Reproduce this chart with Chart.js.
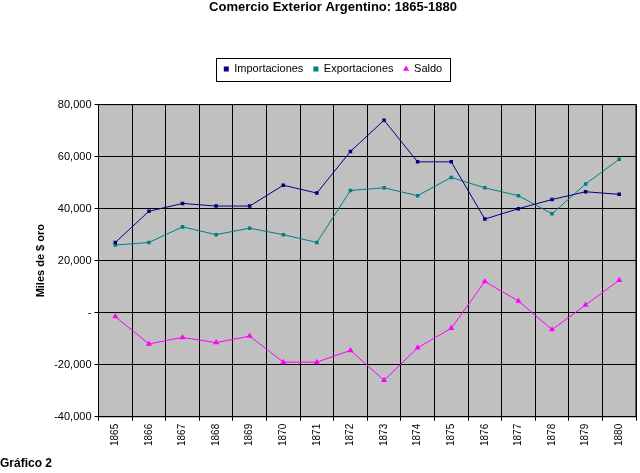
<!DOCTYPE html><html><head><meta charset="utf-8">
<script src="https://cdn.jsdelivr.net/npm/chart.js@4"></script>
<style>html,body{margin:0;background:#fff}#w{width:640px;height:473px;position:relative}
#f{position:absolute;left:0;top:456px;font:bold 12px "Liberation Sans",Arial;}</style></head><body>
<div id="w"><canvas id="c" width="640" height="473"></canvas><div id="f">Gráfico 2</div></div>
<script>
const years=['1865','1866','1867','1868','1869','1870','1871','1872','1873','1874','1875','1876','1877','1878','1879','1880'];
const importaciones=[27000,39000,42000,41000,41000,49000,46000,62000,74000,58000,58000,36000,40000,43500,46500,45500];
const exportaciones=[26000,27000,33000,30000,32500,30000,27000,47000,48000,45000,52000,48000,45000,38000,49500,59000];
const saldo=[-1500,-12000,-9500,-11500,-9000,-19000,-19000,-14500,-26000,-13500,-6000,12000,4500,-6500,3000,12500];
const yTicks=[-40000,-20000,0,20000,40000,60000,80000];
const bg={id:'bg',
beforeUpdate(c){const l=c.legend;if(l&&!l._p){l._p=1;const f=l.fit;l.fit=function(){f.call(this);this.height+=20;};}},
beforeDraw(c){const a=c.chartArea,x=c.ctx;x.save();x.fillStyle='#c0c0c0';x.fillRect(a.left,a.top,a.right-a.left,a.bottom-a.top);x.restore();},
afterDraw(c){const a=c.chartArea,x=c.ctx;x.save();x.strokeStyle='#000';x.lineWidth=1;x.strokeRect(a.left,a.top,a.right-a.left,a.bottom-a.top);
const h=c.legend.legendHitBoxes;if(h&&h.length){const L=h[0].left-8,R=h[h.length-1].left+h[h.length-1].width+8,T=h[0].top-6,B=h[0].top+h[0].height+6;
x.strokeRect(Math.round(L)+0.5,Math.round(T)+0.5,Math.round(R-L),Math.round(B-T));}x.restore();}};
const ds=(label,data,col,ps)=>({label,data,borderColor:col,backgroundColor:col,borderWidth:1,pointStyle:ps,pointRadius:ps==='triangle'?3.5:2.5,pointBorderWidth:0,tension:0});
new Chart(document.getElementById('c'),{type:'line',
data:{labels:years,datasets:[ds('Importaciones',importaciones,'#000080','rect'),ds('Exportaciones',exportaciones,'#008080','rect'),ds('Saldo',saldo,'#ff00ff','triangle')]},
options:{responsive:false,animation:false,
layout:{padding:{left:30,right:4,top:0,bottom:24}},
plugins:{title:{display:true,text:'Comercio Exterior Argentino: 1865-1880',color:'#000',font:{family:'Liberation Sans',size:13,weight:'bold'},padding:{top:0,bottom:38}},
legend:{labels:{usePointStyle:true,boxWidth:5,boxHeight:5,color:'#000',font:{family:'Liberation Sans',size:11},padding:10},
onClick:null},tooltip:{enabled:false}},
scales:{x:{offset:true,grid:{color:'#000',drawTicks:true,tickLength:4,offset:true},border:{color:'#000'},
ticks:{color:'#000',minRotation:90,maxRotation:90,font:{family:'Liberation Sans',size:10}}},
y:{min:-40000,max:80000,afterBuildTicks(s){s.ticks=yTicks.map(v=>({value:v}));},
grid:{color:'#000',tickLength:4},border:{color:'#000'},
title:{display:true,text:'Miles de $ oro',color:'#000',font:{family:'Liberation Sans',size:11,weight:'bold'}},
ticks:{color:'#000',font:{family:'Liberation Sans',size:11},callback:v=>v===0?'-':v.toLocaleString('en-US')}}}},
plugins:[bg]});
</script></body></html>
